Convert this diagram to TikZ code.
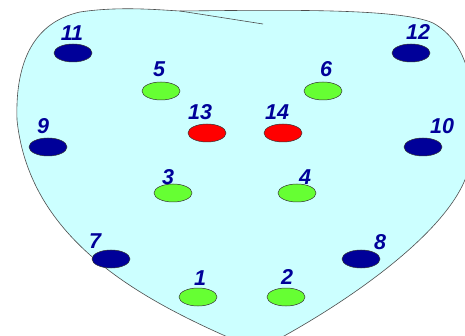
\documentclass[tikz,border=0pt]{standalone}
\usepackage{fontspec}
\newfontfamily\numfont{Liberation Sans}
\usetikzlibrary{shapes.geometric, positioning}

\definecolor{padfill}{HTML}{CCFFFF}
\definecolor{navy}{HTML}{000099}
\definecolor{limeg}{HTML}{66FF33}
\definecolor{hotred}{HTML}{FF0000}

\begin{document}
\begin{tikzpicture}[
  x=1pt, y=-1pt,
  dot/.style={draw=black!80,ellipse,line width=0.5pt,minimum width=38pt,minimum height=18pt,inner sep=0pt},
  outer/.style={dot,fill=navy},
  inner/.style={dot,fill=limeg},
  centre/.style={dot,fill=hotred},
  num/.style={font=\numfont\bfseries\itshape\fontsize{21.5}{21.5}\selectfont,text=navy,inner sep=0pt}]
  \useasboundingbox (0,0) rectangle (465,336);
  % outline of the plate
  \begin{scope}
    \clip (0,0) rectangle (465,336);
    \draw[fill=padfill,draw=black!70,line width=0.6pt]
      (258,350) .. controls (150,305) and (30,245) .. (17,120)
      .. controls (15,60) and (35,22) .. (80,12)
      .. controls (120,6) and (160,10) .. (180,11)
      .. controls (280,10) and (400,8) .. (433,23)
      .. controls (455,35) and (470,60) .. (472,100)
      -- (470,160)
      .. controls (465,220) and (355,300) .. (258,350) -- cycle;
    \draw[black!70,line width=0.6pt] (180,11) -- (263,24);
  \end{scope}
  % electrodes
  \node[outer] (e11) at (73,53) {};
  \node[outer] (e12) at (411,53) {};
  \node[outer] (e9) at (48,147) {};
  \node[outer] (e10) at (423,147) {};
  \node[outer] (e7) at (111,259) {};
  \node[outer] (e8) at (361,259) {};
  \node[inner] (e5) at (161,91) {};
  \node[inner] (e6) at (323,91) {};
  \node[inner] (e3) at (173,193) {};
  \node[inner] (e4) at (297,193) {};
  \node[inner] (e1) at (198,297) {};
  \node[inner] (e2) at (286,297) {};
  \node[centre] (e13) at (207,133) {};
  \node[centre] (e14) at (283,133) {};
  % numbers
  \node[num] (n11) at (72,33) {11};
  \node[num] (n12) at (418,32) {12};
  \node[num] (n9) at (43,126) {9};
  \node[num] (n10) at (442,126) {10};
  \node[num] (n7) at (95,241) {7};
  \node[num] (n8) at (380,242) {8};
  \node[num] (n5) at (159,69) {5};
  \node[num] (n6) at (326,69) {6};
  \node[num] (n13) at (200,112) {13};
  \node[num] (n14) at (277,112) {14};
  \node[num] (n3) at (168,177) {3};
  \node[num] (n4) at (305,177) {4};
  \node[num] (n1) at (200,278) {1};
  \node[num] (n2) at (287,277) {2};
\end{tikzpicture}
\end{document}
